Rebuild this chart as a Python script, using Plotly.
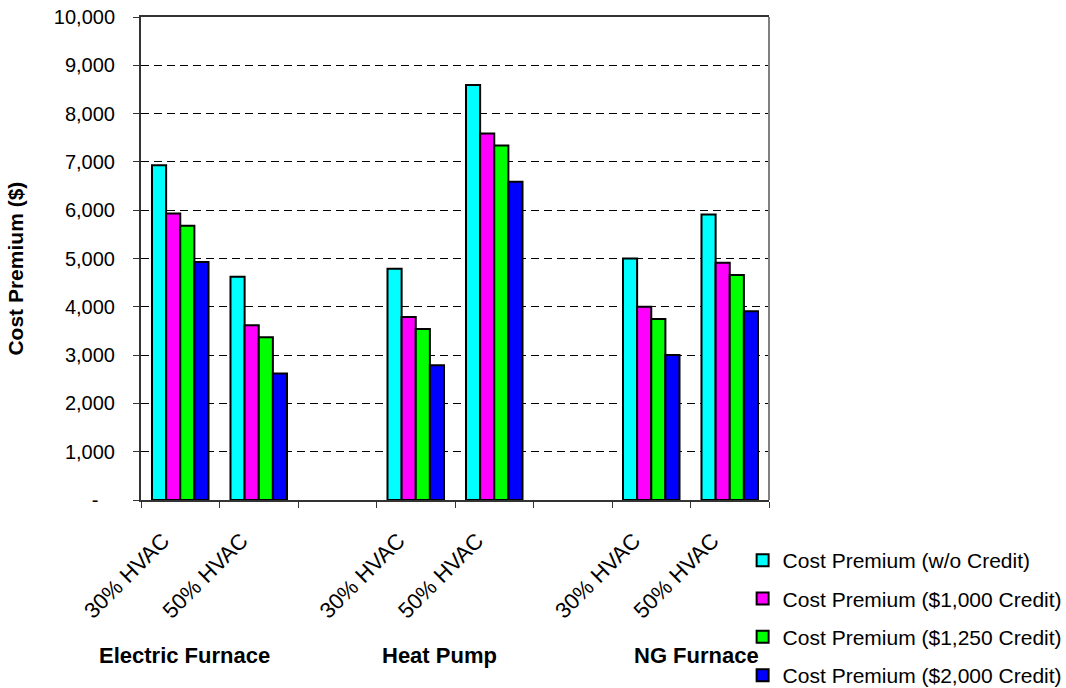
import plotly.graph_objects as go

# Category slots along the x axis (two empty slots separate the systems)
slot_keys = ["EF-30", "EF-50", "gap-1", "HP-30", "HP-50", "gap-2", "NG-30", "NG-50"]
slot_labels = ["30% HVAC", "50% HVAC", "", "30% HVAC", "50% HVAC", "", "30% HVAC", "50% HVAC"]
group_names = ["Electric Furnace", "Heat Pump", "NG Furnace"]

series_names = [
    "Cost Premium (w/o Credit)",
    "Cost Premium ($1,000 Credit)",
    "Cost Premium ($1,250 Credit)",
    "Cost Premium ($2,000 Credit)",
]
no_credit = [6930, 4620, None, 4790, 8590, None, 5000, 5910]
credit_1000 = [5930, 3620, None, 3790, 7590, None, 4000, 4910]
credit_1250 = [5680, 3370, None, 3540, 7340, None, 3750, 4660]
credit_2000 = [4930, 2620, None, 2790, 6590, None, 3000, 3910]

y_ticks = [0, 1000, 2000, 3000, 4000, 5000, 6000, 7000, 8000, 9000, 10000]

colors = ["#00FFFF", "#FF00FF", "#00FF00", "#0000FF"]
FONT = "Liberation Sans, Arial, sans-serif"
NBSP = "\u00a0"

fig = go.Figure()
for name, vals, col in zip(series_names,
                           [no_credit, credit_1000, credit_1250, credit_2000],
                           colors):
    fig.add_trace(go.Bar(
        x=slot_keys, y=vals, name=name, legendgroup=name,
        marker=dict(color=col, line=dict(color="black", width=2)),
    ))

y_text = [f"{v:,}" if v else "-" + NBSP * 3 for v in y_ticks]
x_text = [t + NBSP * 4 if t else t for t in slot_labels]

fig.update_layout(
    width=1066, height=688,
    margin=dict(l=141, r=297, t=17, b=188, autoexpand=False),
    paper_bgcolor="white", plot_bgcolor="white",
    barmode="group", bargap=0.28, bargroupgap=0,
    font=dict(family=FONT, color="black", size=19),
    legend=dict(
        x=0.958, y=-0.083, xanchor="left", yanchor="top",
        font=dict(size=21), bgcolor="white",
        tracegroupgap=8, traceorder="grouped",
    ),
    xaxis=dict(
        type="category", categoryorder="array", categoryarray=slot_keys,
        tickmode="array", tickvals=slot_keys, ticktext=x_text,
        tickson="boundaries", ticks="outside", ticklen=6, tickcolor="#333333",
        tickangle=-45, tickfont=dict(size=22), ticklabelstandoff=0,
        showline=True, linecolor="#333333", linewidth=1.5, mirror=True,
        showgrid=False, range=[-0.5, 7.5], automargin=False,
    ),
    yaxis=dict(
        range=[0, 10000], tickmode="array", tickvals=y_ticks, ticktext=y_text,
        ticks="outside", ticklen=6, tickcolor="#333333",
        tickfont=dict(size=20), ticklabelstandoff=14,
        showline=True, linecolor="#333333", linewidth=2,
        showgrid=True, gridcolor="black", gridwidth=1, griddash="8px,5px",
        zeroline=False, automargin=False,
    ),
)

# y-axis title
fig.add_annotation(
    x=-0.2, xref="paper", y=0.48, yref="paper", xanchor="center", yanchor="middle",
    text="<b>Cost Premium ($)</b>", textangle=-90, showarrow=False,
    font=dict(size=21, family=FONT),
)

# right-hand frame edge in grey
fig.add_shape(type="line", xref="paper", yref="paper", x0=1, x1=1, y0=0, y1=1,
              line=dict(color="#808080", width=2))

# system names beneath each pair of categories
group_label_x = [0.06, 3.3, 6.58]
for gx, gname in zip(group_label_x, group_names):
    fig.add_annotation(
        x=gx, xref="x", y=-0.321, yref="paper", yanchor="middle",
        text=f"<b>{gname}</b>", showarrow=False,
        font=dict(size=22, family=FONT),
    )

fig.write_html("out.html")
